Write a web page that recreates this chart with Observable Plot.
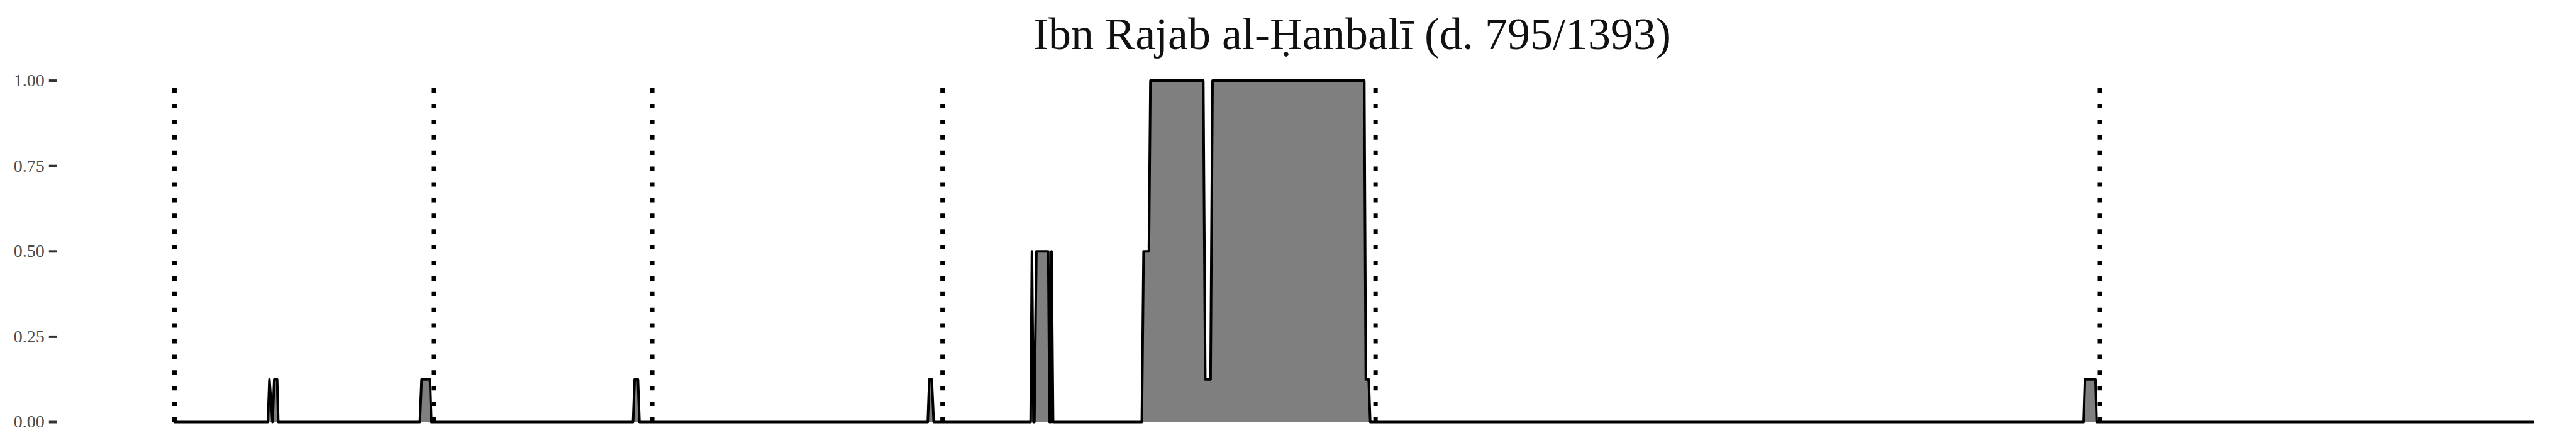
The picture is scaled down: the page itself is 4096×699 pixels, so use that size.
<!DOCTYPE html>
<html>
<head>
<meta charset="utf-8">
<script src="https://cdn.jsdelivr.net/npm/d3@7"></script>
<script src="https://cdn.jsdelivr.net/npm/@observablehq/plot@0.6"></script>
<style>
  html, body { margin: 0; padding: 0; background: #fff; overflow: hidden; }
  #title {
    margin-left: 277px; width: 3746px; height: 102px; box-sizing: border-box;
    padding-top: 6px; line-height: 96px; text-align: center; overflow: visible;
    font-family: "Liberation Serif", "DejaVu Serif", serif; font-size: 72px; color: #111;
    white-space: nowrap;
  }
</style>
</head>
<body>
<div id="title"></div>
<div id="chart"></div>
<script>
const title = "Ibn Rajab al-Ḥanbalī (d. 795/1393)";

// position along the text (abstract units) and share value at that position
const position = [0,
  42.4, 43.1, 44.5, 45.3, 46.6, 47.1,
  111.4, 112.2, 116.0, 116.6,
  208.2, 208.9, 210.4, 211.1,
  342.0, 342.7, 343.8, 344.7,
  388.7, 389.3, 390.0, 390.4, 391.3, 396.7, 397.3, 397.8, 398.2, 398.9,
  439.2, 440.0, 442.4, 443.1, 467.1, 468.0, 470.4, 471.3, 540.2, 540.9, 542.2, 542.9,
  866.8, 867.4, 872.2, 872.7,
  1071];
const share = [0,
  0, 0.125, 0, 0.125, 0.125, 0,
  0, 0.125, 0.125, 0,
  0, 0.125, 0.125, 0,
  0, 0.125, 0.125, 0,
  0, 0.5, 0, 0, 0.5, 0.5, 0, 0, 0.5, 0,
  0, 0.5, 0.5, 1, 1, 0.125, 0.125, 1, 1, 0.125, 0.125, 0,
  0, 0.125, 0.125, 0,
  0];

// dotted section dividers
const dividers = [0, 117.8, 216.9, 348.7, 545.3, 874.2];

// y-axis ticks
const yTicks = [0, 0.25, 0.5, 0.75, 1];

const data = position.map((x, i) => ({x, y: share[i]}));

document.getElementById("title").textContent = title;

const chart = Plot.plot({
  width: 4096,
  height: 597,
  marginLeft: 90.3,
  marginRight: 68.3,
  marginTop: 25.6,
  marginBottom: 29,
  style: {fontFamily: "'Liberation Serif', 'DejaVu Serif', serif", background: "#fff"},
  x: {domain: [-53.3, 1071], axis: null},
  y: {domain: [0, 1], axis: null},
  marks: [
    Plot.areaY(data, {x: "x", y: "y", fill: "#7f7f7f", curve: "linear"}),
    Plot.ruleX(dividers, {x: d => d, y1: 0, y2: 1, stroke: "#000", strokeWidth: 7, strokeDasharray: "7,17.9"}),
    Plot.lineY(data, {x: "x", y: "y", stroke: "#000", strokeWidth: 4, strokeLinejoin: "round", strokeLinecap: "round", curve: "linear"}),
    Plot.axisY({
      ticks: yTicks,
      tickFormat: d3.format(".2f"),
      label: null,
      tickSize: 12.5,
      tickPadding: 7.5,
      fontSize: 28,
      stroke: "#333",
      fill: "#4d4d4d",
      strokeWidth: 4
    })
  ]
});
document.getElementById("chart").appendChild(chart);
</script>
</body>
</html>
